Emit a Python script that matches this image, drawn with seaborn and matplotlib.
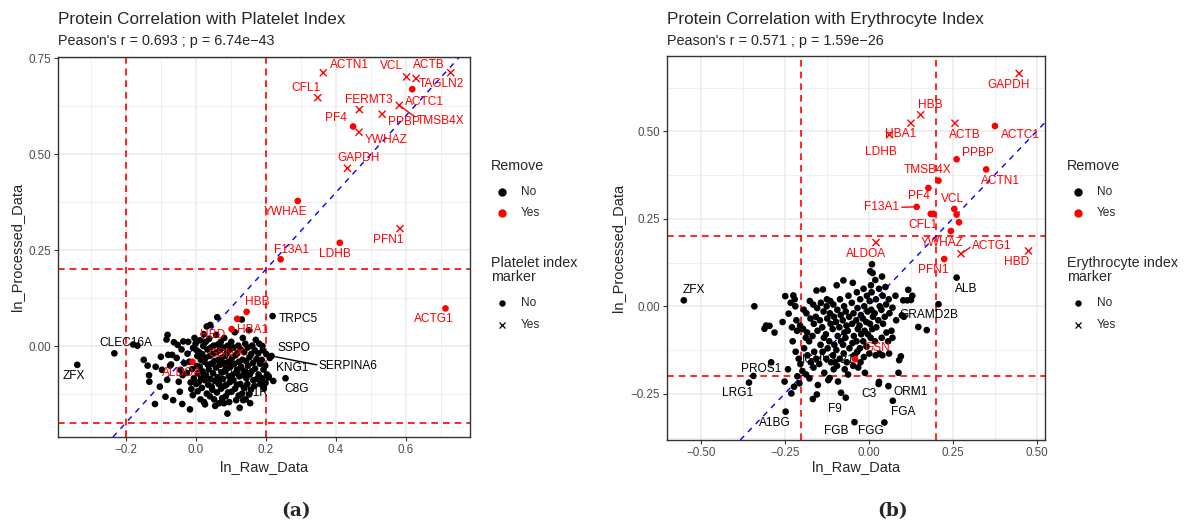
import numpy as np
import pandas as pd
import matplotlib
matplotlib.use("Agg")
import matplotlib.pyplot as plt
from matplotlib.lines import Line2D
import seaborn as sns

# ---------------- DATA : panel (a) Platelet index ----------------
a_genes  = ["ACTN1","CFL1","VCL","ACTB","TAGLN2","ACTC1","TMSB4X","PPBP","FERMT3","PF4",
            "YWHAZ","GAPDH","YWHAE","PFN1","LDHB","F13A1","ACTG1","HBB","HBA1","HBD","GSN","ALDOA",
            "ZFX","CLEC16A","TRPC5","SSPO","SERPINA6","KNG1","C8G","C1R","PRG4"]
a_raw    = [0.364,0.348,0.602,0.629,0.728,0.618,0.581,0.532,0.467,0.449,
            0.466,0.433,0.291,0.583,0.411,0.242,0.713,0.145,0.118,0.102,0.126,-0.010,
            -0.339,-0.233,0.219,0.190,0.216,0.207,0.256,0.135,0.085]
a_proc   = [0.712,0.647,0.701,0.697,0.712,0.669,0.627,0.604,0.616,0.572,
            0.557,0.463,0.378,0.306,0.269,0.226,0.098,0.089,0.071,0.044,-0.015,-0.041,
            -0.049,-0.019,0.078,0.000,-0.026,-0.082,-0.084,-0.141,-0.060]
a_remove = ["Yes"]*22 + ["No"]*9
a_marker = ["Yes","Yes","Yes","Yes","Yes","No","Yes","Yes","Yes","No",
            "Yes","Yes","No","Yes","No","No","No","No","No","No","Yes","No",
            "No","No","No","No","No","No","No","No","No"]

a_bg = [(-0.179,0.004),(-0.167,0.001),(-0.149,-0.036),(-0.138,-0.051),(-0.134,-0.076),(-0.133,-0.093),
 (-0.115,-0.054),(-0.117,-0.151),(-0.103,-0.106),(-0.100,-0.028),(-0.097,-0.062),(-0.084,0.017),
 (-0.081,0.029),(-0.087,-0.132),(-0.079,-0.023),(-0.074,-0.051),(-0.082,-0.088),(-0.068,-0.023),
 (-0.065,-0.141),(-0.063,0.010),(-0.071,-0.048),(-0.049,-0.093),(-0.046,-0.119),(-0.052,0.003),
 (-0.055,-0.031),(-0.044,-0.062),(-0.039,-0.151),(-0.036,0.012),(-0.041,-0.009),(-0.033,-0.045),
 (-0.038,-0.076),(-0.017,-0.165),(-0.015,-0.095),(-0.022,0.011),(-0.024,-0.020),(-0.019,-0.041),
 (-0.026,-0.070),(-0.013,-0.112),(-0.008,-0.005),(-0.004,0.021),(-0.011,-0.060),(-0.006,-0.084),
 (-0.009,-0.128),(0.002,-0.011),(0.004,-0.026),(-0.001,0.006),(0.003,-0.052),(0.006,-0.071),
 (0.001,-0.099),(0.005,-0.118),(0.012,0.015),(0.009,-0.016),(0.014,-0.036),(0.011,-0.054),
 (0.015,-0.081),(0.008,-0.094),(0.013,-0.139),(0.021,0.000),(0.018,-0.021),(0.024,-0.041),
 (0.022,0.031),(0.019,-0.066),(0.025,-0.089),(0.017,-0.109),(0.023,-0.146),(0.031,0.051),
 (0.028,0.011),(0.033,-0.009),(0.027,-0.031),(0.034,-0.049),(0.029,-0.076),(0.035,-0.101),
 (0.031,-0.124),(0.026,-0.152),(0.041,0.055),(0.038,0.019),(0.043,-0.004),(0.039,-0.026),
 (0.044,-0.046),(0.037,-0.061),(0.042,-0.086),(0.045,-0.106),(0.040,-0.131),(0.051,0.001),
 (0.048,-0.021),(0.053,-0.039),(0.049,-0.071),(0.054,-0.091),(0.047,-0.114),(0.052,-0.139),
 (0.055,-0.156),(0.061,0.075),(0.058,0.029),(0.063,0.004),(0.059,-0.016),(0.064,-0.036),
 (0.057,-0.056),(0.062,-0.081),(0.065,-0.099),(0.060,-0.121),(0.066,-0.149),(0.071,0.011),
 (0.068,-0.011),(0.073,-0.031),(0.069,-0.049),(0.074,-0.069),(0.067,-0.091),(0.072,-0.111),
 (0.075,-0.136),(0.081,0.021),(0.078,-0.004),(0.083,-0.026),(0.079,-0.044),(0.084,-0.066),
 (0.077,-0.086),(0.082,-0.104),(0.085,-0.131),(0.080,-0.149),(0.091,0.001),(0.088,-0.019),
 (0.093,-0.041),(0.089,-0.059),(0.094,-0.079),(0.087,-0.101),(0.092,-0.121),(0.095,-0.146),
 (0.090,-0.176),(0.101,0.011),(0.098,-0.009),(0.103,-0.031),(0.099,-0.054),(0.104,-0.076),
 (0.097,-0.094),(0.102,-0.119),(0.111,0.036),(0.108,-0.004),(0.113,-0.024),(0.109,-0.046),
 (0.114,-0.069),(0.107,-0.089),(0.112,-0.111),(0.115,-0.141),(0.121,0.001),(0.118,-0.019),
 (0.123,-0.041),(0.119,-0.061),(0.124,-0.079),(0.117,-0.101),(0.122,-0.129),(0.125,-0.161),
 (0.131,0.069),(0.134,0.021),(0.128,-0.009),(0.133,-0.036),(0.129,-0.054),(0.136,-0.076),
 (0.127,-0.099),(0.132,-0.124),(0.141,0.006),(0.138,-0.016),(0.143,-0.039),(0.139,-0.066),
 (0.144,-0.084),(0.137,-0.109),(0.142,-0.139),(0.151,0.041),(0.148,-0.004),(0.153,-0.029),
 (0.149,-0.051),(0.154,-0.074),(0.147,-0.099),(0.152,-0.126),(0.155,-0.149),(0.161,0.001),
 (0.158,-0.021),(0.163,-0.044),(0.159,-0.066),(0.164,-0.089),(0.157,-0.114),(0.171,0.016),
 (0.168,-0.011),(0.173,-0.034),(0.169,-0.059),(0.174,-0.086),(0.167,-0.104),(0.181,0.006),
 (0.178,-0.019),(0.183,-0.046),(0.179,-0.074),(0.184,-0.099),(0.191,-0.011),(0.188,-0.036),
 (0.193,-0.061),(0.189,-0.084),(0.194,-0.109),(0.201,-0.021),(0.198,-0.051),(0.203,-0.074),
 (0.199,-0.096),(0.211,-0.031),(0.208,-0.079),(0.221,-0.091)]
a_bg_raw  = [p[0] for p in a_bg]
a_bg_proc = [p[1] for p in a_bg]

# ---------------- DATA : panel (b) Erythrocyte index ----------------
b_genes  = ["GAPDH","HBB","HBA1","LDHB","ACTB","ACTC1","PPBP","ACTN1","TMSB4X","PF4",
            "F13A1","VCL","CFL1","TAGLN2","FERMT3","YWHAE","YWHAZ","ALDOA","ACTG1","HBD","PFN1","GSN",
            "ALB","ZFX","GRAMD2B","IGHV3-21","PROS1","LRG1","A1BG","F9","FGB","FGG","FGA","ORM1","C3"]
b_raw    = [0.448,0.155,0.126,0.062,0.257,0.376,0.262,0.350,0.208,0.178,
            0.143,0.255,0.185,0.193,0.262,0.269,0.245,0.022,0.275,0.476,0.225,-0.040,
            0.262,-0.550,0.208,-0.100,-0.290,-0.356,-0.247,-0.082,-0.042,0.047,0.072,0.059,0.031]
b_proc   = [0.665,0.547,0.523,0.490,0.523,0.515,0.420,0.391,0.359,0.338,
            0.284,0.278,0.264,0.264,0.262,0.240,0.215,0.182,0.150,0.158,0.135,-0.151,
            0.082,0.017,0.006,-0.160,-0.160,-0.218,-0.301,-0.247,-0.331,-0.332,-0.270,-0.228,-0.216]
b_remove = ["Yes"]*22 + ["No"]*13
b_marker = ["Yes","Yes","Yes","Yes","Yes","No","No","No","No","No",
            "No","No","No","No","No","No","No","Yes","Yes","Yes","No","No",
            "No","No","No","No","No","No","No","No","No","No","No","No","No"]
b_show   = ["GAPDH","HBB","HBA1","LDHB","ACTB","ACTC1","PPBP","ACTN1","TMSB4X","PF4","F13A1",
            "VCL","CFL1","YWHAZ","ALDOA","ACTG1","HBD","PFN1","GSN","ALB","ZFX","GRAMD2B",
            "IGHV3-21","PROS1","LRG1","A1BG","F9","FGB","FGG","FGA","ORM1","C3"]

b_bg = [(-0.340,0.000),(-0.343,-0.199),(-0.310,-0.064),(-0.305,-0.055),(-0.295,-0.056),(-0.280,-0.075),
 (-0.256,-0.045),(-0.248,0.029),(-0.250,-0.215),(-0.238,-0.021),(-0.240,-0.180),(-0.230,-0.249),
 (-0.232,0.010),(-0.228,-0.060),(-0.224,0.031),(-0.222,-0.230),(-0.226,-0.100),(-0.220,0.020),
 (-0.215,-0.040),(-0.213,-0.070),(-0.217,-0.130),(-0.212,-0.200),(-0.218,0.000),(-0.206,-0.220),
 (-0.204,-0.055),(-0.208,-0.150),(-0.203,-0.165),(-0.195,-0.065),(-0.193,-0.010),(-0.197,-0.185),
 (-0.192,-0.120),(-0.185,-0.020),(-0.183,-0.075),(-0.187,-0.090),(-0.182,-0.140),(-0.186,-0.195),
 (-0.175,0.015),(-0.173,-0.035),(-0.177,-0.100),(-0.172,-0.160),(-0.176,-0.206),(-0.165,0.005),
 (-0.163,-0.050),(-0.167,-0.085),(-0.162,-0.130),(-0.166,-0.265),(-0.164,-0.175),(-0.155,0.045),
 (-0.153,-0.005),(-0.157,-0.030),(-0.152,-0.070),(-0.156,-0.150),(-0.154,-0.252),(-0.151,-0.225),
 (-0.145,-0.040),(-0.143,-0.110),(-0.147,-0.165),(-0.142,0.010),(-0.136,0.048),(-0.134,-0.015),
 (-0.138,-0.060),(-0.133,-0.090),(-0.137,-0.130),(-0.132,-0.190),(-0.125,0.000),(-0.123,-0.035),
 (-0.127,-0.080),(-0.122,-0.120),(-0.126,-0.150),(-0.120,-0.211),(-0.124,0.020),(-0.115,-0.020),
 (-0.113,-0.050),(-0.117,-0.100),(-0.112,-0.160),(-0.116,-0.205),(-0.114,0.015),(-0.105,0.005),
 (-0.103,-0.030),(-0.107,-0.065),(-0.102,-0.110),(-0.106,-0.140),(-0.104,-0.180),(-0.095,0.060),
 (-0.093,-0.010),(-0.097,-0.045),(-0.092,-0.085),(-0.096,-0.125),(-0.094,-0.170),(-0.091,-0.215),
 (-0.085,0.020),(-0.083,-0.025),(-0.087,-0.060),(-0.082,-0.100),(-0.086,-0.150),(-0.075,0.074),
 (-0.073,0.000),(-0.077,-0.040),(-0.072,-0.075),(-0.076,-0.110),(-0.074,-0.135),(-0.071,-0.180),
 (-0.068,-0.015),(-0.066,-0.055),(-0.069,-0.090),(-0.068,-0.261),(-0.065,-0.160),(-0.060,0.030),
 (-0.058,-0.030),(-0.062,-0.070),(-0.057,-0.120),(-0.061,-0.195),(-0.047,0.067),(-0.050,0.010),
 (-0.045,-0.020),(-0.049,-0.050),(-0.044,-0.085),(-0.048,-0.105),(-0.043,-0.140),(-0.046,-0.170),
 (-0.035,0.040),(-0.033,-0.005),(-0.037,-0.040),(-0.032,-0.065),(-0.036,-0.100),(-0.034,-0.130),
 (-0.031,-0.175),(-0.025,0.020),(-0.023,-0.025),(-0.027,-0.055),(-0.022,-0.080),(-0.026,-0.120),
 (-0.024,-0.160),(-0.015,0.050),(-0.013,0.000),(-0.017,-0.035),(-0.012,-0.070),(-0.016,-0.100),
 (-0.014,-0.145),(-0.011,-0.190),(-0.005,0.030),(-0.003,-0.015),(-0.007,-0.045),(-0.002,-0.080),
 (-0.006,-0.115),(0.005,0.100),(0.007,0.060),(0.003,0.015),(0.008,-0.010),(0.004,-0.050),
 (0.006,-0.090),(0.002,-0.135),(0.010,0.120),(0.012,0.095),(0.009,0.040),(0.013,-0.030),
 (0.011,-0.065),(0.020,0.075),(0.022,0.020),(0.018,-0.020),(0.023,-0.060),(0.019,-0.100),
 (0.021,-0.140),(0.031,0.050),(0.033,0.000),(0.029,-0.040),(0.032,-0.135),(0.030,-0.222),
 (0.040,0.085),(0.042,0.030),(0.038,-0.010),(0.043,-0.050),(0.039,-0.090),(0.041,-0.140),
 (0.050,0.055),(0.052,0.005),(0.048,-0.030),(0.053,-0.075),(0.060,0.020),(0.062,-0.020),
 (0.061,-0.135),(0.058,-0.100),(0.071,-0.004),(0.071,-0.090),(0.068,-0.070),(0.080,0.030),
 (0.082,-0.040),(0.089,-0.190),(0.091,-0.154),(0.096,-0.143),(0.099,-0.026),(0.105,-0.030),
 (0.103,0.017),(0.118,0.047),(0.115,0.017),(0.130,0.030),(0.126,0.018),(0.148,-0.059),(0.173,-0.068)]
b_bg_raw  = [p[0] for p in b_bg]
b_bg_proc = [p[1] for p in b_bg]

# ---------------- label placement (text centres, data units) ----------------
a_label_pos = {"ACTN1":(0.438,0.732),"CFL1":(0.313,0.673),"VCL":(0.559,0.729),"ACTB":(0.664,0.732),
    "TAGLN2":(0.702,0.682),"FERMT3":(0.495,0.641),"ACTC1":(0.654,0.636),"PF4":(0.400,0.595),
    "PPBP":(0.594,0.584),"TMSB4X":(0.700,0.587),"YWHAZ":(0.545,0.538),"GAPDH":(0.466,0.491),
    "YWHAE":(0.257,0.348),"PFN1":(0.549,0.276),"LDHB":(0.397,0.240),"F13A1":(0.273,0.250),
    "ACTG1":(0.680,0.070),"HBB":(0.175,0.114),"HBA1":(0.161,0.042),"HBD":(0.047,0.029),
    "GSN":(0.073,-0.021),"ALDOA":(-0.039,-0.069),"ZFX":(-0.349,-0.078),"CLEC16A":(-0.201,0.007),
    "TRPC5":(0.292,0.070),"SSPO":(0.281,-0.004),"SERPINA6":(0.433,-0.051),"KNG1":(0.275,-0.058),
    "C8G":(0.288,-0.112),"C1R":(0.173,-0.122),"PRG4":(0.108,-0.062)}
a_segments = {"TMSB4X":(0.626,0.597),"SERPINA6":(0.345,-0.049)}

b_label_pos = {"GAPDH":(0.416,0.633),"HBB":(0.185,0.576),"HBA1":(0.096,0.492),"LDHB":(0.037,0.442),
    "ACTB":(0.287,0.490),"ACTC1":(0.451,0.490),"PPBP":(0.327,0.438),"TMSB4X":(0.175,0.388),
    "ACTN1":(0.393,0.359),"PF4":(0.151,0.314),"VCL":(0.249,0.307),"F13A1":(0.037,0.283),
    "CFL1":(0.163,0.231),"YWHAZ":(0.218,0.182),"ACTG1":(0.367,0.172),"ALDOA":(-0.008,0.148),
    "PFN1":(0.193,0.103),"HBD":(0.441,0.126),"ALB":(0.292,0.050),"ZFX":(-0.519,0.046),
    "GRAMD2B":(0.178,-0.026),"GSN":(0.027,-0.118),"IGHV3-21":(-0.120,-0.154),"PROS1":(-0.321,-0.180),
    "LRG1":(-0.389,-0.249),"C3":(0.002,-0.252),"ORM1":(0.126,-0.244),"F9":(-0.100,-0.294),
    "FGA":(0.104,-0.301),"A1BG":(-0.280,-0.333),"FGB":(-0.097,-0.356),"FGG":(0.007,-0.356)}
b_segments = {"F13A1":(0.099,0.283),"ACTG1":(0.302,0.168),"GSN":(-0.010,-0.106)}

# ---------------- style ----------------
sns.set_theme(style="white")
plt.rcParams['font.family'] = ['Liberation Sans', 'DejaVu Sans']
W, H = 1188, 526
fig = plt.figure(figsize=(W/100, H/100), dpi=100)
PAL = {"No": "black", "Yes": "red"}
GRID = "#EBEBEB"
LAB_FS = 8.6

def fx(px): return px / W
def fy(py): return 1 - py / H

def make_df(genes, raw, proc, remove, marker, bg_raw, bg_proc):
    lab = pd.DataFrame({"gene": genes, "raw": raw, "proc": proc, "remove": remove, "marker": marker})
    bg = pd.DataFrame({"gene": "", "raw": bg_raw, "proc": bg_proc, "remove": "No", "marker": "No"})
    df = pd.concat([bg, lab], ignore_index=True)
    df["order"] = (df["remove"] == "Yes").astype(int)
    return df.sort_values("order", kind="stable"), lab

def panel(rect, df, lab, xlim, ylim, xt, yt, xminor, yminor, xtl, ytl, label_pos, segments, show=None):
    ax = fig.add_axes(rect)
    ax.set_facecolor("white")
    for v in xminor: ax.axvline(v, color=GRID, lw=0.55, zorder=0)
    for v in yminor: ax.axhline(v, color=GRID, lw=0.55, zorder=0)
    for v in xt: ax.axvline(v, color=GRID, lw=1.1, zorder=0)
    for v in yt: ax.axhline(v, color=GRID, lw=1.1, zorder=0)
    for v in (-0.2, 0.2):
        ax.axvline(v, color="red", lw=1.2, ls=(0, (4, 3)), zorder=1)
        ax.axhline(v, color="red", lw=1.2, ls=(0, (4, 3)), zorder=1)
    ax.axline((0, 0), slope=1, color="blue", lw=1.0, ls=(0, (4, 4)), zorder=1)
    for _, r in lab.iterrows():
        g = r["gene"]
        if show is not None and g not in show: continue
        if g not in label_pos: continue
        tx, ty = label_pos[g]
        col = PAL[r["remove"]]
        ax.text(tx, ty, g, color=col, fontsize=LAB_FS, ha="center", va="center",
                zorder=2 if col == "black" else 5)
        if g in segments:
            sx, sy = segments[g]
            ax.plot([r["raw"], sx], [r["proc"], sy], color=col, lw=1.0, zorder=2)
    dots = df[df["marker"] == "No"]
    crosses = df[df["marker"] == "Yes"]
    sns.scatterplot(data=dots, x="raw", y="proc", hue="remove", palette=PAL, marker="o",
                    s=23, linewidth=0, ax=ax, legend=False, zorder=3)
    sns.scatterplot(data=crosses, x="raw", y="proc", hue="remove", palette=PAL, marker="x",
                    s=26, linewidth=1.0, ax=ax, legend=False, zorder=4)
    ax.set_xlim(*xlim); ax.set_ylim(*ylim)
    ax.set_xticks(xt); ax.set_xticklabels(xtl)
    ax.set_yticks(yt); ax.set_yticklabels(ytl)
    ax.tick_params(axis="both", which="major", length=3, width=0.8, color="#333333",
                   labelcolor="#4D4D4D", labelsize=8.4, pad=2, bottom=True, left=True)
    for s in ax.spines.values():
        s.set_color("#333333"); s.set_linewidth(1.0); s.set_visible(True)
    ax.set_xlabel(""); ax.set_ylabel("")
    return ax

def legend(x_title, x_mark, x_text, title2):
    fig.text(fx(x_title), fy(166), "Remove", fontsize=10.3, va="center", ha="left")
    for py, col, txt in [(191.7, "black", "No"), (213.3, "red", "Yes")]:
        fig.add_artist(Line2D([fx(x_mark)], [fy(py)], marker="o", color=col, markersize=5.0,
                              linestyle="none", transform=fig.transFigure))
        fig.text(fx(x_text), fy(py), txt, fontsize=8.6, va="center", ha="left")
    fig.text(fx(x_title), fy(270), title2, fontsize=10.3, va="center", ha="left", linespacing=1.0)
    fig.add_artist(Line2D([fx(x_mark)], [fy(302.7)], marker="o", color="black", markersize=3.6,
                          linestyle="none", transform=fig.transFigure))
    fig.text(fx(x_text), fy(302.7), "No", fontsize=8.6, va="center", ha="left")
    fig.add_artist(Line2D([fx(x_mark)], [fy(325)], marker="x", color="black", markersize=4.2,
                          markeredgewidth=0.9, linestyle="none", transform=fig.transFigure))
    fig.text(fx(x_text), fy(325), "Yes", fontsize=8.6, va="center", ha="left")

# ---------------- panel (a) ----------------
dfa, laba = make_df(a_genes, a_raw, a_proc, a_remove, a_marker, a_bg_raw, a_bg_proc)
axa = panel([fx(58), fy(437), fx(470) - fx(58), fy(57) - fy(437)], dfa, laba,
            (-0.394, 0.783), (-0.237, 0.753),
            [-0.2, 0.0, 0.2, 0.4, 0.6], [0.0, 0.25, 0.50, 0.75],
            [-0.3, -0.1, 0.1, 0.3, 0.5, 0.7], [-0.125, 0.125, 0.375, 0.625],
            ["\u22120.2", "0.0", "0.2", "0.4", "0.6"], ["0.00", "0.25", "0.50", "0.75"],
            a_label_pos, a_segments)
fig.text(fx(58), fy(24), "Protein Correlation with Platelet Index", fontsize=12.3, va="baseline")
fig.text(fx(58), fy(45), "Peason's r = 0.693 ; p = 6.74e\u221243", fontsize=10.4, va="baseline")
fig.text(fx(264), fy(467), "ln_Raw_Data", fontsize=10.5, ha="center", va="center")
fig.text(fx(17), fy(247), "ln_Processed_Data", fontsize=10.5, ha="center", va="center", rotation=90)
legend(491, 502, 521, "Platelet index\nmarker")
fig.text(fx(296), fy(511), "(a)", fontsize=13.5, fontweight="bold", family="DejaVu Serif",
         ha="center", va="center")

# ---------------- panel (b) ----------------
dfb, labb = make_df(b_genes, b_raw, b_proc, b_remove, b_marker, b_bg_raw, b_bg_proc)
axb = panel([fx(667), fy(440), fx(1045) - fx(667), fy(56) - fy(440)], dfb, labb,
            (-0.60, 0.525), (-0.382, 0.715),
            [-0.50, -0.25, 0.0, 0.25, 0.50], [-0.25, 0.0, 0.25, 0.50],
            [-0.375, -0.125, 0.125, 0.375], [-0.375, -0.125, 0.125, 0.375, 0.625],
            ["\u22120.50", "\u22120.25", "0.00", "0.25", "0.50"], ["\u22120.25", "0.00", "0.25", "0.50"],
            b_label_pos, b_segments, show=b_show)
fig.text(fx(667), fy(24), "Protein Correlation with Erythrocyte Index", fontsize=12.3, va="baseline")
fig.text(fx(667), fy(45), "Peason's r = 0.571 ; p = 1.59e\u221226", fontsize=10.4, va="baseline")
fig.text(fx(856), fy(467), "ln_Raw_Data", fontsize=10.5, ha="center", va="center")
fig.text(fx(618), fy(248), "ln_Processed_Data", fontsize=10.5, ha="center", va="center", rotation=90)
legend(1067, 1078, 1097, "Erythrocyte index\nmarker")
fig.text(fx(893), fy(511), "(b)", fontsize=13.5, fontweight="bold", family="DejaVu Serif",
         ha="center", va="center")

fig.savefig("out.png", dpi=100, facecolor="white")
